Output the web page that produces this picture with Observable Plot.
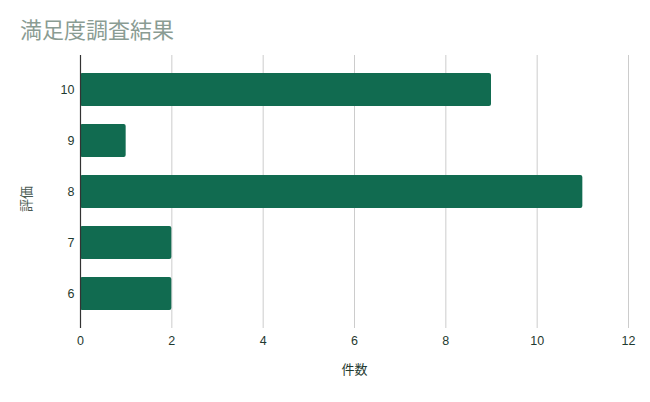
<!DOCTYPE html>
<html><head><meta charset="utf-8">
<script src="https://cdn.jsdelivr.net/npm/d3@7"></script>
<script src="https://cdn.jsdelivr.net/npm/@observablehq/plot@0.6"></script>
<style>
body{margin:0;background:#fff;font-family:"Liberation Sans",Arial,"Noto Sans CJK JP",sans-serif;}
#title{height:45px;box-sizing:border-box;padding:17px 0 0 20px;font-size:22px;line-height:1;color:#8a9c93;font-family:"Noto Sans CJK JP",sans-serif;}
#chart svg{display:block;}
</style></head><body>
<div id="title">満足度調査結果</div>
<div id="chart"></div>
<script>
const ratings = ["10", "9", "8", "7", "6"];
const counts = [9, 1, 11, 2, 2];
const xTicks = [0, 2, 4, 6, 8, 10, 12];
const xLabel = "件数";
const yLabel = "評価";

const data = ratings.map((r, i) => ({rating: r, count: counts[i]}));

const chart = Plot.plot({
  width: 650,
  height: 357,
  marginTop: 10,
  marginBottom: 74,
  marginLeft: 80,
  marginRight: 22,
  style: {fontFamily: "'Liberation Sans', Arial, sans-serif", fontSize: "12px", color: "#1f3a30", background: "#fff"},
  x: {domain: [0, 12]},
  y: {domain: ratings, padding: 0.35},
  marks: [
    Plot.gridX(xTicks.slice(1), {stroke: "#cccccc", strokeOpacity: 1}),
    Plot.barX(data, {x: "count", y: "rating", fill: "#116b50", rx: 2}),
    Plot.ruleX([0], {stroke: "#333333", strokeWidth: 1.2}),
    Plot.axisX(xTicks, {tickSize: 0, tickPadding: 8, label: null, fill: "#1f3a30", fontSize: 12.5}),
    Plot.axisY({tickSize: 0, tickPadding: 6, label: null, fill: "#1f3a30", fontSize: 12.5}),
    Plot.text([xLabel], {frameAnchor: "bottom", dy: 45, fontSize: 13, fill: "#1f3a30", fontFamily: "Noto Sans CJK JP"}),
    Plot.text([yLabel], {frameAnchor: "left", dx: -54, dy: 20, rotate: -90, fontSize: 13, fill: "#4a5a52", fontFamily: "Noto Sans CJK JP"})
  ]
});
document.getElementById("chart").appendChild(chart);
</script>
</body></html>
